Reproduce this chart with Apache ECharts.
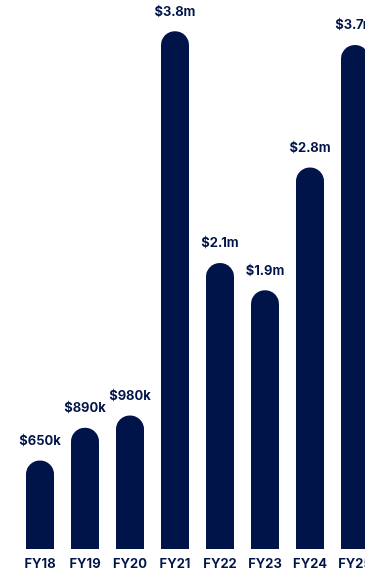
<!DOCTYPE html>
<html>
<head>
<meta charset="utf-8">
<style>
  html, body { margin: 0; padding: 0; background: #ffffff; overflow: hidden; width: 365px; height: 573px; }
  /* the canvas is wider than the page, so the last bar runs off the right edge */
  #chart { width: 380px; height: 573px; }
</style>
<script src="https://cdn.jsdelivr.net/npm/echarts@6/dist/echarts.min.js"></script>
</head>
<body>
<div id="chart"></div>
<script>
// Annual totals by fiscal year, in millions of dollars
const categories = ['FY18', 'FY19', 'FY20', 'FY21', 'FY22', 'FY23', 'FY24', 'FY25'];
const values = [0.65, 0.89, 0.98, 3.8, 2.1, 1.9, 2.8, 3.7];
const valueLabels = ['$650k', '$890k', '$980k', '$3.8m', '$2.1m', '$1.9m', '$2.8m', '$3.7m'];

const navy = '#001449';
const chart = echarts.init(document.getElementById('chart'), null, { renderer: 'canvas' });

chart.setOption({
  animation: false,
  grid: { left: 17.5, width: 360, top: 4, bottom: 24, containLabel: false },
  xAxis: {
    type: 'category',
    data: categories,
    axisLine: { show: false },
    axisTick: { show: false },
    axisLabel: {
      color: navy,
      fontFamily: 'Inter',
      fontWeight: 'bold',
      fontSize: 13,
      margin: 9,
      interval: 0
    }
  },
  yAxis: {
    type: 'value',
    min: 0,
    max: 4,
    show: false,
    splitLine: { show: false }
  },
  series: [{
    type: 'bar',
    data: values,
    barWidth: 28,
    itemStyle: { color: navy, borderRadius: [14, 14, 0, 0] },
    label: {
      show: true,
      position: 'top',
      distance: 13,
      color: navy,
      fontFamily: 'Inter',
      fontWeight: 'bold',
      fontSize: 13,
      formatter: p => valueLabels[p.dataIndex]
    }
  }]
});
</script>
</body>
</html>
